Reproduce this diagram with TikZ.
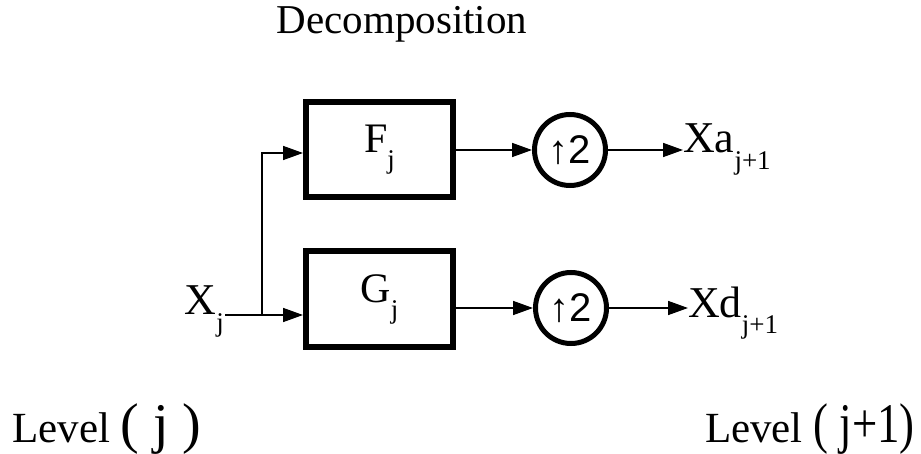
\documentclass[tikz,border=0pt]{standalone}
\usepackage{fontspec}
\usepackage{graphicx}
\setmainfont{Liberation Serif}
\newfontfamily\arialf{Liberation Sans}
\usetikzlibrary{arrows.meta}
\newcommand\fsz[1]{\fontsize{#1}{#1}\selectfont}
\newcommand\sbj[1]{\raisebox{-0.38em}{\fsz{27}#1}}
\begin{document}
\begin{tikzpicture}[x=1pt,y=-1pt,
  blk/.style={draw,line width=6pt,minimum width=147pt,minimum height=95pt,inner sep=0pt,font=\fsz{42}},
  upd/.style={draw,circle,line width=5pt,minimum size=71pt,inner sep=0pt,font=\arialf\fsz{40}},
  lbl/.style={inner sep=0pt,font=\fsz{44}},
  conn/.style={line width=1.6pt,-{Triangle[length=20pt,width=14pt]}}]
\useasboundingbox (0,0) rectangle (921,454);
\node[inner sep=0pt,font=\fsz{41},anchor=base] (title) at (402,34) {Decomposition};
\node[blk] (F) at (379.5,150) {F\sbj{j}};
\node[blk] (G) at (379.5,299) {G\sbj{j}};
\node[upd] (U1) at (570,150) {↑2};
\node[upd] (U2) at (571,308) {↑2};
\node[lbl,anchor=base east] (Xj) at (224,315) {X\sbj{j}};
\node[lbl,anchor=base west] (Xa) at (683,153) {Xa\sbj{j+1}};
\node[lbl,anchor=base west] (Xd) at (688,317) {Xd\sbj{j+1}};
\node[inner sep=0pt,anchor=base west,font=\fsz{43}] (L1) at (12,442) {Level \fsz{56}( j )};
\node[inner sep=0pt,anchor=base east,font=\fsz{43}] (L2) at (915,442) {Level \scalebox{0.8}[1]{\fsz{56}( j+1)}};
\coordinate (br) at (262,315);
\coordinate (ftop) at (262,153);
\draw[conn] (Xj.base east) ++(1,0) coordinate (xs) (xs) -- (G.west |- xs);
\draw[conn] (br) -- (ftop) -- (F.west |- ftop);
\draw[conn] (F) -- (U1);
\draw[conn] (G.east |- U2) -- (U2.west);
\draw[conn] (U1.east) -- (U1.east -| Xa.west);
\draw[conn] (U2.east) -- (U2.east -| Xd.west);
\end{tikzpicture}
\end{document}
